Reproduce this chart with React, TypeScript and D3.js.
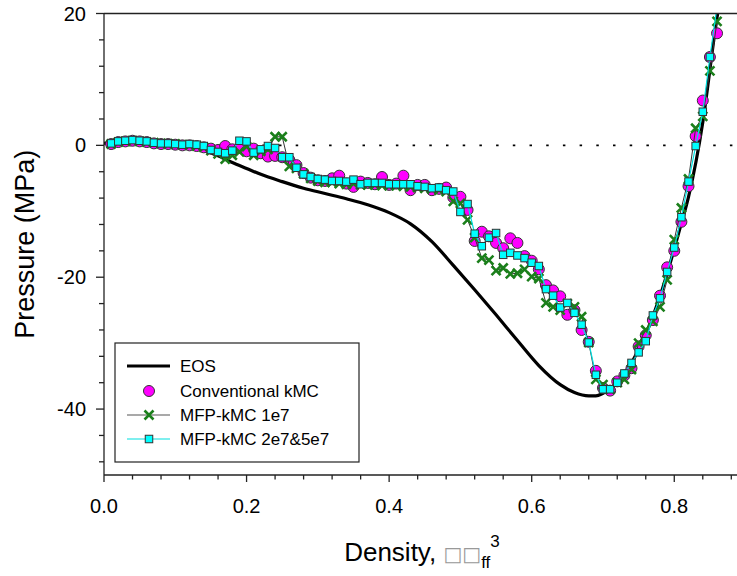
import React from "react";
import * as d3 from "d3";

const density = [
  0.01, 0.02, 0.03, 0.04, 0.05, 0.06, 0.07, 0.08, 0.09, 0.1,
  0.11, 0.12, 0.13, 0.14, 0.15, 0.16, 0.17, 0.18, 0.19, 0.2,
  0.21, 0.22, 0.23, 0.24, 0.25, 0.26, 0.27, 0.28, 0.29, 0.3,
  0.31, 0.32, 0.33, 0.34, 0.35, 0.36, 0.37, 0.38, 0.39, 0.4,
  0.41, 0.42, 0.43, 0.44, 0.45, 0.46, 0.47, 0.48, 0.49, 0.5,
  0.51, 0.52, 0.53, 0.54, 0.55, 0.56, 0.57, 0.58, 0.59, 0.6,
  0.61, 0.62, 0.63, 0.64, 0.65, 0.66, 0.67, 0.68, 0.69, 0.7,
  0.71, 0.72, 0.73, 0.74, 0.75, 0.76, 0.77, 0.78, 0.79, 0.8,
  0.81, 0.82, 0.83, 0.84, 0.85, 0.86,
];

const conventionalKMC = [
  0.2, 0.5, 0.6, 0.7, 0.6, 0.5, 0.3, 0.2, 0.2, 0.1,
  0.0, 0.0, -0.1, -0.3, -0.5, -0.7, -0.1, -0.6, -0.4, -0.9,
  -0.5, -1.2, -1.7, -1.6, -1.8, -2.2, -3.0, -4.2, -4.9, -5.3,
  -5.4, -5.0, -4.6, -5.8, -6.3, -5.5, -5.7, -5.9, -4.8, -6.0,
  -5.8, -4.6, -6.8, -6.0, -6.0, -6.8, -6.6, -6.4, -7.9, -7.8,
  -9.8, -14.5, -13.1, -13.8, -14.8, -15.6, -14.1, -14.8, -16.8, -17.5,
  -18.8, -21.2, -22.0, -22.9, -25.7, -25.0, -28.0, -29.8, -34.2, -36.8,
  -37.2, -35.8, -34.9, -33.8, -30.5, -28.8, -26.5, -22.8, -18.5, -16.0,
  -11.6, -6.2, 1.4, 6.8, 13.4, 17.0,
];

const mfp1e7 = [
  0.2, 0.5, 0.6, 0.7, 0.6, 0.5, 0.4, 0.3, 0.2, 0.2,
  0.1, 0.0, -0.1, -0.3, -0.8, -1.3, -2.1, -1.5, -1.0, -0.2,
  -1.5, -0.9, -0.6, 1.3, 1.3, -3.2, -3.5, -4.3, -5.0, -5.4,
  -5.6, -5.6, -5.8, -5.9, -5.8, -6.0, -6.0, -6.0, -6.1, -6.1,
  -6.1, -6.2, -6.3, -6.4, -6.5, -6.6, -6.8, -7.0, -8.5, -8.8,
  -11.3, -14.0, -17.1, -17.4, -19.0, -18.6, -19.5, -19.4, -18.8, -19.9,
  -20.2, -23.9, -24.5, -25.0, -24.0, -24.5, -26.0, -29.9, -35.5, -36.3,
  -37.0, -36.0, -35.5, -34.0, -30.0, -28.0, -26.7, -24.5, -20.4, -14.3,
  -9.5, -5.1, 2.6, 4.4, 11.3, 18.8,
];

const mfp2e7 = [
  0.3, 0.6, 0.7, 0.8, 0.7, 0.6, 0.4, 0.3, 0.3, 0.2,
  0.1, 0.2, 0.1, -0.1, -0.7, -1.0, -1.2, -0.8, 0.7, 0.6,
  -1.1, -0.6, -0.1, -0.4, -1.8, -1.8, -3.4, -4.4, -4.8, -5.1,
  -5.2, -5.4, -5.4, -5.5, -5.2, -5.9, -5.7, -5.7, -5.7, -5.9,
  -5.9, -5.9, -5.9, -6.2, -6.3, -6.5, -6.4, -6.8, -7.0, -10.1,
  -8.9, -13.4, -15.3, -14.0, -13.3, -16.6, -16.3, -16.7, -17.1, -17.8,
  -18.3, -21.8, -22.8, -24.6, -23.9, -25.4, -27.2, -29.9, -34.8, -37.0,
  -37.0, -36.0, -34.6, -33.0, -31.4, -29.7, -25.8, -23.2, -19.2, -15.5,
  -10.9, -5.5, -0.1, 5.1, 13.4, 21.0,
];

const eosDensity = [
  0.0, 0.02, 0.04, 0.06, 0.08, 0.1, 0.12, 0.14, 0.16, 0.18,
  0.2, 0.22, 0.25, 0.28, 0.31, 0.34, 0.37, 0.4, 0.43, 0.46,
  0.49, 0.52, 0.55, 0.58, 0.61, 0.64, 0.66, 0.68, 0.69, 0.7,
  0.71, 0.72, 0.75, 0.78, 0.81, 0.82, 0.84, 0.857, 0.865,
];
const eosPressure = [
  0.3, 0.6, 0.8, 0.7, 0.5, 0.3, 0.0, -0.7, -1.6, -2.6,
  -3.5, -4.4, -5.5, -6.5, -7.3, -8.1, -9.0, -10.2, -11.9, -14.6,
  -18.2, -21.9, -25.7, -29.6, -33.4, -36.3, -37.5, -38.0, -38.0, -37.6,
  -36.9, -35.9, -31.0, -22.9, -11.8, -7.8, 3.5, 17.2, 23.0,
];

const xMajor = [0, 0.2, 0.4, 0.6, 0.8];
const xMajorLabels = ["0.0", "0.2", "0.4", "0.6", "0.8"];
const yMajor = [-40, -20, 0, 20];
const yMajorLabels = ["-40", "-20", "0", "20"];

const legendLabels = ["EOS", "Conventional kMC", "MFP-kMC 1e7", "MFP-kMC 2e7&5e7"];

const W = 737;
const H = 576;
const X0 = 104;
const X1 = 737;
const Y0 = 13.5;
const Y1 = 475;

const FONT = "'Liberation Sans', Arial, Helvetica, sans-serif";

export default function App() {
  const x = d3.scaleLinear().domain([0, 0.888]).range([X0, X1]);
  const y = d3.scaleLinear().domain([-50, 20]).range([Y1, Y0]);

  const xMinor = d3.range(0, 0.8801, 0.04).filter((v) => !xMajor.some((m) => Math.abs(m - v) < 1e-6));
  const yMinor = d3.range(-48, 20.01, 4).filter((v) => !yMajor.some((m) => Math.abs(m - v) < 1e-6));

  const eosLine = d3
    .line<number>()
    .x((_, i) => x(eosDensity[i]))
    .y((p) => y(p))
    .curve(d3.curveMonotoneX);

  const seriesLine = (vals: number[]) =>
    d3
      .line<number>()
      .x((_, i) => x(density[i]))
      .y((p) => y(p))(vals) || "";

  const crossPath = (cx: number, cy: number, s: number) =>
    `M${cx - s},${cy - s}L${cx + s},${cy + s}M${cx - s},${cy + s}L${cx + s},${cy - s}`;

  const green = "#1b7f1b";
  const magenta = "#ff00ff";
  const cyan = "#00ffff";
  const sq = 7.5;

  const legX = 115;
  const legY = 343;
  const legRows = [366, 391, 415, 439];

  return (
    <svg
      width={W}
      height={H}
      style={{ position: "absolute", left: 0, top: 0, background: "#fff" }}
      fontFamily={FONT}
    >
      <defs>
        <clipPath id="plot">
          <rect x={X0} y={Y0} width={X1 - X0} height={Y1 - Y0} />
        </clipPath>
      </defs>

      {/* zero dotted line */}
      <line
        x1={X0}
        x2={X1}
        y1={y(0)}
        y2={y(0)}
        stroke="#000"
        strokeWidth={1.6}
        strokeDasharray="2.5 14.2"
        strokeDashoffset={-8}
      />

      <g clipPath="url(#plot)">
        {/* EOS */}
        <path d={eosLine(eosPressure) || ""} fill="none" stroke="#000" strokeWidth={3.2} />

        {/* Conventional kMC */}
        {conventionalKMC.map((p, i) => (
          <circle key={"c" + i} cx={x(density[i])} cy={y(p)} r={5.5} fill={magenta} stroke="#333" strokeWidth={1} />
        ))}

        {/* MFP-kMC 1e7 */}
        <path d={seriesLine(mfp1e7)} fill="none" stroke="#333" strokeWidth={1} />
        {mfp1e7.map((p, i) => (
          <path key={"x" + i} d={crossPath(x(density[i]), y(p), 4.5)} stroke={green} strokeWidth={2.6} fill="none" />
        ))}

        {/* MFP-kMC 2e7&5e7 */}
        <path d={seriesLine(mfp2e7)} fill="none" stroke="#00e0e0" strokeWidth={1.2} />
        {mfp2e7.map((p, i) => (
          <rect
            key={"s" + i}
            x={x(density[i]) - sq / 2}
            y={y(p) - sq / 2}
            width={sq}
            height={sq}
            fill={cyan}
            stroke="#333"
            strokeWidth={1}
          />
        ))}
      </g>

      {/* axes frame */}
      <line x1={X0} x2={X1} y1={Y0} y2={Y0} stroke="#222" strokeWidth={1.3} />
      <line x1={X0} x2={X1} y1={Y1} y2={Y1} stroke="#222" strokeWidth={1.3} />
      <line x1={X0} x2={X0} y1={Y0} y2={Y1} stroke="#222" strokeWidth={1.3} />

      {/* x ticks */}
      {xMajor.map((v, i) => (
        <g key={"xm" + i}>
          <line x1={x(v)} x2={x(v)} y1={Y1} y2={Y1 + 7} stroke="#222" strokeWidth={1.3} />
          <text x={x(v)} y={Y1 + 38} fontSize={20} textAnchor="middle" fill="#000">
            {xMajorLabels[i]}
          </text>
        </g>
      ))}
      {xMinor.map((v, i) => (
        <line key={"xn" + i} x1={x(v)} x2={x(v)} y1={Y1} y2={Y1 + 4.5} stroke="#222" strokeWidth={1.3} />
      ))}

      {/* y ticks */}
      {yMajor.map((v, i) => (
        <g key={"ym" + i}>
          <line x1={X0 - 8} x2={X0} y1={y(v)} y2={y(v)} stroke="#222" strokeWidth={1.3} />
          <text x={X0 - 18} y={y(v) + 7} fontSize={20} textAnchor="end" fill="#000">
            {yMajorLabels[i]}
          </text>
        </g>
      ))}
      {yMinor.map((v, i) => (
        <line key={"yn" + i} x1={X0 - 5} x2={X0} y1={y(v)} y2={y(v)} stroke="#222" strokeWidth={1.3} />
      ))}

      {/* axis titles */}
      <text
        transform={`translate(34,${(Y0 + Y1) / 2}) rotate(-90)`}
        fontSize={27}
        textAnchor="middle"
        fill="#000"
      >
        Pressure (MPa)
      </text>
      <text x={422} y={561} fontSize={26} textAnchor="middle" fill="#000">
        Density,{" "}
        <tspan fill="#999" fontFamily="'DejaVu Sans'" fontSize={20}>
          □□
        </tspan>
        <tspan fontSize={17} dy={7}>
          ff
        </tspan>
        <tspan fontSize={17} dy={-21}>
          3
        </tspan>
      </text>

      {/* legend */}
      <rect x={legX} y={legY} width={244} height={119} fill="#fff" stroke="#222" strokeWidth={1.2} />
      {/* EOS */}
      <line x1={127} x2={170} y1={legRows[0]} y2={legRows[0]} stroke="#000" strokeWidth={3.2} />
      {/* circles */}
      <circle cx={149} cy={legRows[1]} r={5.5} fill={magenta} stroke="#333" strokeWidth={1} />
      {/* crosses */}
      <line x1={127} x2={170} y1={legRows[2]} y2={legRows[2]} stroke="#555" strokeWidth={1.2} />
      <path d={crossPath(149, legRows[2], 4.5)} stroke={green} strokeWidth={2.6} fill="none" />
      {/* squares */}
      <line x1={127} x2={170} y1={legRows[3]} y2={legRows[3]} stroke="#00e0e0" strokeWidth={1.2} />
      <rect x={149 - sq / 2} y={legRows[3] - sq / 2} width={sq} height={sq} fill={cyan} stroke="#333" strokeWidth={1} />
      {legendLabels.map((t, i) => (
        <text key={"lg" + i} x={180} y={legRows[i] + 6} fontSize={17} fill="#000">
          {t}
        </text>
      ))}
    </svg>
  );
}
